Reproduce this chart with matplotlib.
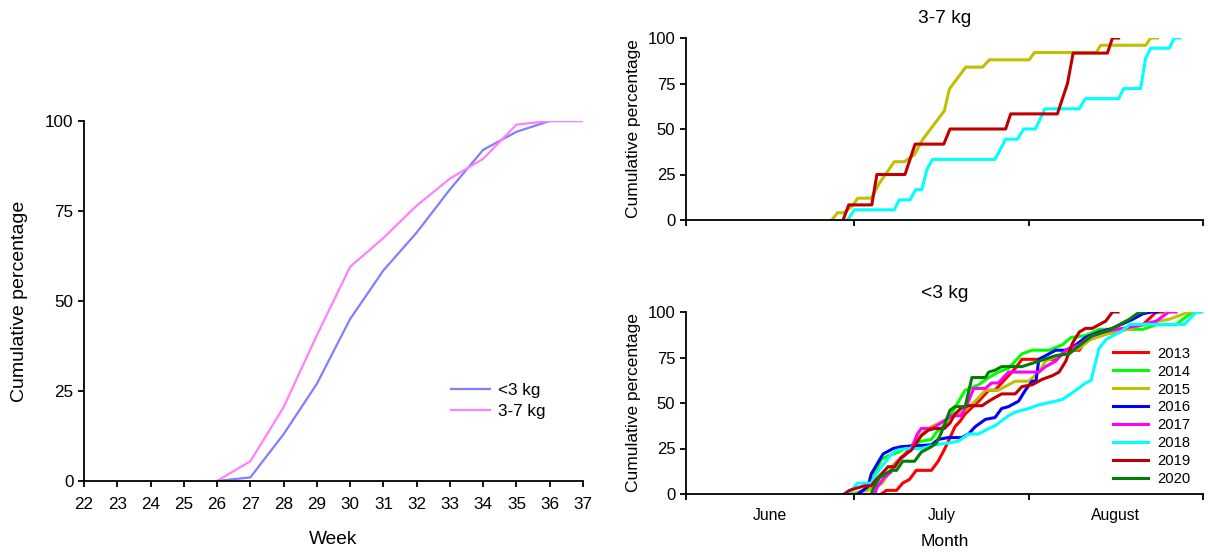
import matplotlib
matplotlib.use("Agg")
from matplotlib import pyplot as plt

plt.rcParams['font.family'] = ['Liberation Sans', 'DejaVu Sans']

# left panel: weekly cumulative percentage
weeks = [22, 23, 24, 25, 26, 27, 28, 29, 30, 31, 32, 33, 34, 35, 36, 37]
small_pct = [None, None, None, None, 0, 1, 13, 27, 45, 58.5, 69, 81, 92, 97, 100, 100]
large_pct = [None, None, None, None, 0, 5.5, 20.5, 40.5, 59.5, 67.5, 76.5, 84, 89.5, 99, 100, 100]

# right panels: day index from 1 June (0) to 1 Sept (92)
month_ticks = [0, 30, 61, 92]
month_mid = [15, 45.5, 76.5]
month_names = ["June", "July", "August"]

# 3-7 kg by year
big_2015_day = [26.0, 27.0, 28.2, 29.7, 30.6, 33.0, 34.4, 37.1, 38.9, 40.7, 42.1, 46.0, 46.9,
                49.8, 52.8, 54.0, 61.1, 62.0, 73.0, 73.8, 81.8, 82.7, 83.9]
big_2015_pct = [0, 4, 4, 8, 12, 12, 20, 32, 32, 36, 44, 60, 72,
                84, 84, 88, 88, 92, 92, 96, 96, 100, 100]
big_2018_day = [28.8, 30.0, 37.1, 38.0, 39.9, 40.9, 42.0, 42.9, 43.9, 55.0, 56.9, 59.0, 60.1,
                62.2, 63.9, 70.0, 71.1, 77.0, 77.9, 80.9, 81.8, 82.7, 86.0, 86.9, 87.9]
big_2018_pct = [0, 5.6, 5.6, 11.1, 11.1, 16.7, 16.7, 27.8, 33.3, 33.3, 44.4, 44.4, 50,
                50, 61.1, 61.1, 66.7, 66.7, 72.2, 72.2, 88.9, 94.4, 94.4, 100, 100]
big_2019_day = [28.0, 29.0, 33.1, 34.0, 39.0, 40.8, 45.9, 47.0, 56.9, 57.8, 66.1, 67.9,
                68.9, 75.0, 75.9, 77.0]
big_2019_pct = [0, 8.3, 8.3, 25, 25, 41.7, 41.7, 50, 50, 58.3, 58.3, 75,
                91.7, 91.7, 100, 100]

# <3 kg by year
s2013_day = [34.8, 35.7, 37.5, 38.6, 39.8, 41.0, 43.7, 44.9, 46.1, 47.0, 47.9, 48.8, 49.7, 50.9,
             52.1, 53.9, 55.0, 56.8, 58.6, 59.8, 65.8, 67.6, 70.0, 71.1, 72.9, 74.7, 76.5,
             78.9, 81.3, 83.0, 83.7, 84.9]
s2013_pct = [0, 2, 2, 6, 8, 13, 13, 18, 25, 31, 37, 40, 44, 47.5,
             51, 57, 57, 63, 69, 74, 74, 79, 79, 84, 86, 88, 89,
             91, 93, 98, 100, 100]
s2014_day = [29.7, 31.8, 33.0, 33.9, 34.8, 36.0, 37.8, 39.5, 41.9, 43.7, 44.6, 46.1, 47.9, 49.7,
             50.9, 52.1, 53.9, 55.6, 57.4, 59.8, 61.6, 64.6, 67.0, 68.5, 71.1, 73.5, 81.3,
             83.7, 87.2, 88.4, 90.2, 91.4]
s2014_pct = [0, 2, 6, 13, 19, 21, 23, 26, 29, 30, 34, 38, 47.5, 57,
             58.5, 60, 64, 67, 69, 77, 79, 79, 82, 86, 87, 90.5, 90.5,
             93, 93, 96, 100, 100]
s2015_day = [29.4, 32.4, 33.9, 35.0, 36.0, 36.9, 38.3, 40.1, 41.9, 43.7, 47.9, 49.7, 51.5, 53.3,
             55.6, 58.6, 61.0, 62.8, 64.0, 67.0, 70.0, 72.0, 75.0, 78.0, 80.0, 84.0, 86.0,
             89.5, 90.5]
s2015_pct = [0, 2, 4, 6, 11, 16, 20, 26, 33, 37, 43, 46, 51, 57,
             57, 62, 62, 67, 73, 77, 80, 85, 88, 90, 92, 95, 96,
             100, 100]
s2016_day = [30.6, 32.4, 33.0, 35.1, 36.9, 38.3, 43.7, 44.9, 46.7, 49.1, 50.3, 51.5, 53.3, 55.0,
             56.2, 57.4, 59.2, 60.4, 61.6, 62.3, 62.8, 65.8, 67.6, 69.4, 71.1, 73.5, 75.9,
             79.5, 81.3, 82.8, 83.9]
s2016_pct = [0, 4, 11, 22, 25, 26, 27, 30, 31, 31, 33, 37, 41, 42,
             47, 48, 51, 57, 62, 62, 74, 79, 79, 82, 86, 89, 91,
             96, 99, 100, 100]
s2017_day = [33.6, 34.1, 35.3, 36.5, 37.7, 38.9, 40.4, 41.2, 41.9, 43.7, 44.9, 47.3, 49.0, 50.3,
             51.2, 53.3, 54.4, 55.6, 57.4, 62.8, 64.0, 65.8, 67.6, 70.0, 71.7, 74.1, 75.9,
             81.3, 83.7, 85.9, 87.2]
s2017_pct = [0, 4, 9, 12, 18, 21, 27, 33, 36, 36, 38, 43, 43, 51,
             58, 58, 61, 61, 67, 67, 70, 73, 79, 82, 86, 89, 90,
             93, 95, 100, 100]
s2018_day = [29.1, 30.0, 30.6, 33.0, 33.9, 35.1, 36.6, 37.5, 39.2, 41.9, 44.3, 46.7, 48.5, 50.3,
             52.1, 53.9, 55.0, 57.4, 58.6, 61.0, 62.8, 65.8, 67.0, 69.4, 71.1, 72.1, 73.5,
             74.8, 77.6, 79.0, 88.7, 90.8, 92.0]
s2018_pct = [0, 4, 6, 6, 11, 16, 22, 24, 25, 25, 27, 28, 29, 33,
             33, 36, 37.5, 43, 45, 47, 49, 51, 52, 57, 61, 62.4, 80,
             85, 89.6, 93.2, 93.2, 100, 100]
s2019_day = [28.2, 29.1, 31.8, 33.0, 33.9, 35.1, 36.0, 37.2, 38.3, 40.1, 41.9, 43.1, 44.3, 46.0,
             47.0, 47.9, 49.1, 50.3, 52.7, 53.9, 55.0, 56.2, 58.6, 59.8, 61.6, 63.4, 65.2,
             66.4, 67.6, 68.8, 70.0, 71.1, 72.3, 73.5, 74.7, 75.9, 76.9]
s2019_pct = [0, 2, 4.5, 4.5, 8, 12, 15, 15, 20, 24, 32, 35, 36, 36,
             39, 44, 47.5, 48.5, 48.5, 51, 53, 55, 55, 59, 60, 63, 65,
             67, 73, 83, 89, 91, 91, 93, 95, 100, 100]
s2020_day = [33.0, 33.6, 34.5, 35.4, 36.6, 37.5, 38.6, 40.7, 41.9, 43.7, 44.6, 45.5, 47.0, 47.9,
             49.7, 50.9, 53.3, 53.9, 55.0, 56.2, 59.8, 62.8, 65.8, 68.2, 70.6, 72.3, 75.3,
             77.1, 78.9, 80.7, 81.8]
s2020_pct = [0, 4.5, 9, 11, 13, 13, 18, 18, 23, 26, 28, 34, 46, 48,
             48, 64, 64, 67, 68, 70, 70, 73, 76, 77, 83, 87, 90,
             93, 96, 100, 100]

years = ["2013", "2014", "2015", "2016", "2017", "2018", "2019", "2020"]
year_colors = ["#ff0000", "#00ff00", "#c0c000", "#0000ff", "#ff00ff", "#00ffff", "#c00000", "#008000"]
small_days = [s2013_day, s2014_day, s2015_day, s2016_day, s2017_day, s2018_day, s2019_day, s2020_day]
small_pcts = [s2013_pct, s2014_pct, s2015_pct, s2016_pct, s2017_pct, s2018_pct, s2019_pct, s2020_pct]


def style_axes(ax, size):
    for side in ["top", "right"]:
        ax.spines[side].set_visible(False)
    for side in ["left", "bottom"]:
        ax.spines[side].set_linewidth(1.3)
    ax.tick_params(direction="out", length=4.5, width=1.3, labelsize=size, pad=3)


fig = plt.figure(figsize=(12.08, 5.53), dpi=100)

# left panel
ax = fig.add_axes([84 / 1208, 72 / 553, 499 / 1208, 360 / 553])
small_w = [w for w, p in zip(weeks, small_pct) if p is not None]
ax.plot(small_w, [p for p in small_pct if p is not None], color="#7f7fff", lw=1.6, label="<3 kg")
ax.plot(small_w, [p for p in large_pct if p is not None], color="#ff80ff", lw=1.6, label="3-7 kg")
ax.set_xlim(22, 37)
ax.set_ylim(0, 100)
ax.set_xticks(weeks)
ax.set_yticks([0, 25, 50, 75, 100])
style_axes(ax, 12.3)
ax.tick_params(axis="x", pad=7)
ax.set_xlabel("Week", fontsize=13.8, labelpad=14)
ax.set_ylabel("Cumulative percentage", fontsize=14, labelpad=12)
ax.legend(loc="center left", bbox_to_anchor=(0.735, 0.222), frameon=False, fontsize=12.3,
          borderpad=0, borderaxespad=0, handlelength=2.3, handletextpad=0.45, labelspacing=0.32)

# top right panel: 3-7 kg
ax1 = fig.add_axes([685.7 / 1208, 333 / 553, 517.3 / 1208, 182 / 553])
ax1.plot(big_2015_day, big_2015_pct, color="#c0c000", lw=2.2)
ax1.plot(big_2018_day, big_2018_pct, color="#00ffff", lw=2.2)
ax1.plot(big_2019_day, big_2019_pct, color="#c00000", lw=2.2)
ax1.set_title("3-7 kg", fontsize=13.8, pad=11)

# bottom right panel: <3 kg
ax2 = fig.add_axes([685.7 / 1208, 59 / 553, 517.3 / 1208, 182 / 553])
for yr, col, d, p in zip(years, year_colors, small_days, small_pcts):
    ax2.plot(d, p, color=col, lw=2.2, label=yr)
ax2.set_title("<3 kg", fontsize=13.8, pad=10)
ax2.set_xlabel("Month", fontsize=12.5, labelpad=8)
ax2.legend(loc="center left", bbox_to_anchor=(0.826, 0.426), frameon=False, fontsize=10.6,
           borderpad=0, borderaxespad=0, handlelength=2.4, handletextpad=0.6, labelspacing=0.27)

for a in [ax1, ax2]:
    a.set_xlim(0, 92)
    a.set_ylim(0, 100)
    a.set_xticks(month_ticks)
    a.set_xticklabels([])
    a.set_yticks([0, 25, 50, 75, 100])
    style_axes(a, 12)
    a.set_ylabel("Cumulative percentage", fontsize=12.5, labelpad=5)

ax2.set_xticks(month_mid, minor=True)
ax2.set_xticklabels(month_names, minor=True)
ax2.tick_params(axis="x", which="minor", length=0, labelsize=11.3, pad=10)

fig.savefig("out.png", dpi=100)
